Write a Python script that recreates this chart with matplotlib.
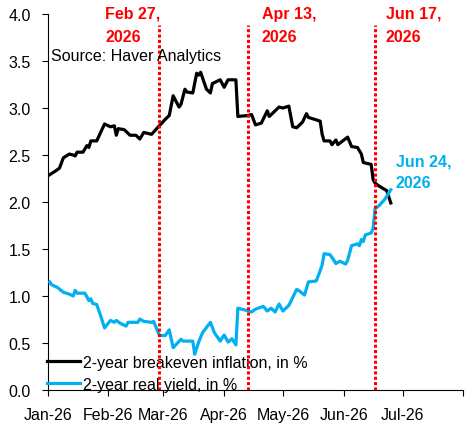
import matplotlib
matplotlib.use("Agg")
import matplotlib.pyplot as plt
import pandas as pd

plt.rcParams['font.family'] = ['Liberation Sans', 'DejaVu Sans']

# ---- data ----
be_dates = ["01-02", "01-05", "01-07", "01-09", "01-12", "01-14", "01-15", "01-16", "01-19", "01-21",
            "01-22", "01-23", "01-26", "01-30", "02-02", "02-04", "02-05", "02-06", "02-09", "02-12",
            "02-15", "02-17", "02-19", "02-23", "02-26", "03-02", "03-04", "03-06", "03-09", "03-10",
            "03-12", "03-13", "03-16", "03-18", "03-19", "03-20", "03-23", "03-25", "03-26", "03-30",
            "04-01", "04-03", "04-07", "04-08", "04-13", "04-15", "04-17", "04-20", "04-23", "04-24",
            "04-29", "05-01", "05-04", "05-06", "05-08", "05-11", "05-13", "05-14", "05-20", "05-21",
            "05-22", "05-25", "05-26", "05-28", "05-29", "06-03", "06-05", "06-08", "06-10", "06-11",
            "06-15", "06-16", "06-17", "06-19", "06-23", "06-25"]
be_values = [2.29, 2.33, 2.36, 2.47, 2.51, 2.50, 2.49, 2.53, 2.53, 2.60,
             2.58, 2.65, 2.65, 2.83, 2.80, 2.81, 2.71, 2.78, 2.77, 2.71,
             2.71, 2.67, 2.74, 2.72, 2.79, 2.88, 2.92, 3.13, 3.01, 3.04,
             3.20, 3.17, 3.16, 3.37, 3.35, 3.38, 3.20, 3.16, 3.26, 3.30,
             3.22, 3.30, 3.30, 2.91, 2.92, 2.93, 2.82, 2.84, 2.97, 2.91,
             3.01, 3.00, 3.02, 2.80, 2.79, 2.85, 2.94, 2.90, 2.86, 2.72,
             2.65, 2.65, 2.61, 2.66, 2.61, 2.69, 2.59, 2.58, 2.51, 2.42,
             2.40, 2.24, 2.20, 2.17, 2.12, 1.99]

ry_dates = ["01-02", "01-03", "01-06", "01-09", "01-12", "01-14", "01-15", "01-16", "01-20", "01-21",
            "01-22", "01-23", "01-24", "01-26", "01-28", "01-30", "02-02", "02-04", "02-05", "02-07",
            "02-10", "02-11", "02-16", "02-17", "02-19", "02-23", "02-24", "02-27", "03-02", "03-04",
            "03-06", "03-10", "03-11", "03-16", "03-17", "03-19", "03-21", "03-25", "03-27", "03-30",
            "04-01", "04-03", "04-05", "04-07", "04-08", "04-11", "04-15", "04-17", "04-21", "04-23",
            "04-25", "04-27", "04-29", "05-01", "05-04", "05-08", "05-09", "05-12", "05-14", "05-18",
            "05-20", "05-21", "05-22", "05-25", "05-27", "05-28", "05-30", "06-02", "06-03", "06-05",
            "06-08", "06-09", "06-10", "06-11", "06-12", "06-15", "06-16", "06-17", "06-19", "06-22",
            "06-25"]
ry_values = [1.15, 1.12, 1.09, 1.04, 1.02, 1.00, 1.06, 1.03, 1.03, 0.99,
             0.95, 0.97, 0.92, 0.91, 0.79, 0.66, 0.74, 0.72, 0.74, 0.71,
             0.68, 0.72, 0.72, 0.755, 0.73, 0.72, 0.73, 0.58, 0.58, 0.64,
             0.45, 0.54, 0.52, 0.52, 0.38, 0.51, 0.61, 0.72, 0.61, 0.52,
             0.585, 0.51, 0.545, 0.48, 0.87, 0.855, 0.83, 0.86, 0.89, 0.84,
             0.87, 0.83, 0.915, 0.84, 0.90, 1.07, 1.06, 1.01, 1.15, 1.16,
             1.27, 1.33, 1.45, 1.44, 1.38, 1.345, 1.37, 1.34, 1.38, 1.535,
             1.555, 1.535, 1.60, 1.58, 1.65, 1.67, 1.72, 1.93, 1.96, 2.03,
             2.13]

event_dates = ["2026-02-27", "2026-04-13", "2026-06-17"]
event_labels = ["Feb 27,\n2026", "Apr 13,\n2026", "Jun 17,\n2026"]
blue_label = "Jun 24,\n2026"
series_labels = ["2-year breakeven inflation, in %", "2-year real yield, in %"]
source_text = "Source: Haver Analytics"
month_ticks = ["2026-01-01", "2026-02-01", "2026-03-01", "2026-04-01", "2026-05-01",
               "2026-06-01", "2026-07-01", "2026-08-01"]
month_labels = ["Jan-26", "Feb-26", "Mar-26", "Apr-26", "May-26", "Jun-26", "Jul-26", ""]
y_ticks = [0.0, 0.5, 1.0, 1.5, 2.0, 2.5, 3.0, 3.5, 4.0]

BLUE = "#00B0F0"
RED = "#FF0000"

W, H = 472, 427
fig = plt.figure(figsize=(W / 100, H / 100), dpi=100)

def fx(x):
    return x / W

def fy(y):
    return 1 - y / H

ax = fig.add_axes([fx(47.7), fy(391), fx(463.3) - fx(47.7), fy(15) - fy(391)])

bx = pd.to_datetime(["2026-" + d for d in be_dates])
rx = pd.to_datetime(["2026-" + d for d in ry_dates])

ax.plot(bx, be_values, color="black", lw=2.3, label=series_labels[0], zorder=3,
        solid_joinstyle="round")
ax.plot(rx, ry_values, color=BLUE, lw=2.3, label=series_labels[1], zorder=4,
        solid_joinstyle="round")

for d in event_dates:
    ax.axvline(pd.Timestamp(d), ymin=0, ymax=0.972, color=RED, lw=2.2,
               linestyle=(0, (1, 0.75)), zorder=7)

ax.set_xlim(pd.Timestamp("2026-01-01"), pd.Timestamp("2026-08-01"))
ax.set_ylim(0, 4.0)
ax.set_xticks(pd.to_datetime(month_ticks))
ax.set_xticklabels(month_labels)
ax.set_yticks(y_ticks)
ax.set_yticklabels([f"{v:.1f}" for v in y_ticks])

for s in ["top", "right"]:
    ax.spines[s].set_visible(False)
for s in ["left", "bottom"]:
    ax.spines[s].set_linewidth(0.8)
ax.tick_params(axis="y", direction="out", length=4.3, width=0.8, pad=8.0, labelsize=11.5)
ax.tick_params(axis="x", direction="out", length=4.0, width=0.8, pad=8.5, labelsize=11.5)

leg = ax.legend(loc="lower left", bbox_to_anchor=(fx(47), fy(393)), bbox_transform=fig.transFigure,
                frameon=False, borderpad=0, borderaxespad=0, handlelength=2.06,
                handletextpad=0.2, labelspacing=0.45, fontsize=11.5)
leg.set_zorder(5)

# annotations
def two_line(x, y1, y2, text, color):
    l1, l2 = text.split("\n")
    fig.text(fx(x), fy(y1), l1, color=color, fontsize=11.5, fontweight="bold",
             ha="left", va="baseline")
    fig.text(fx(x), fy(y2), l2, color=color, fontsize=11.5, fontweight="bold",
             ha="left", va="baseline")

two_line(105, 18.5, 42, event_labels[0], RED)
two_line(261.7, 18.5, 42.5, event_labels[1], RED)
two_line(386, 18.5, 42.5, event_labels[2], RED)
two_line(395.7, 166.5, 188.5, blue_label, BLUE)
fig.text(fx(51), fy(61), source_text, color="black", fontsize=11.5, ha="left", va="baseline")

fig.savefig("out.png", dpi=100, facecolor="white")
